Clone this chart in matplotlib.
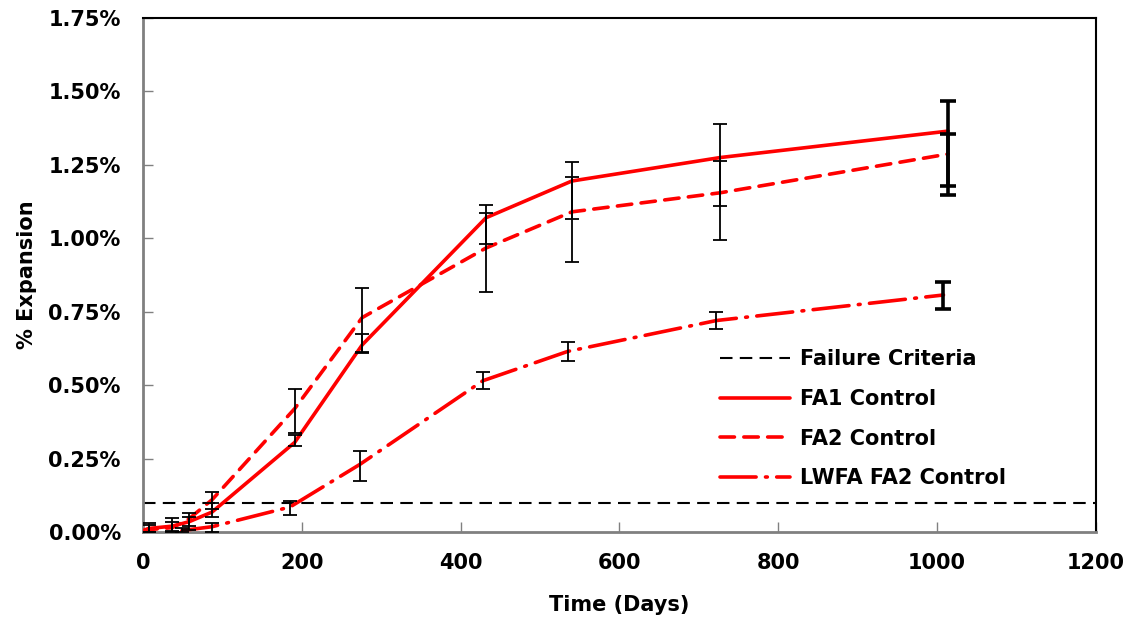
import numpy as np
import matplotlib
matplotlib.use("Agg")
import matplotlib.pyplot as plt
from matplotlib.ticker import FuncFormatter

plt.rcParams['font.family'] = ['DejaVu Sans']
plt.rcParams['font.weight'] = 'bold'

# ---- data ----
failure_criteria = 0.10

fa1_days = [0, 7, 37, 58, 87, 191, 276, 432, 540, 727, 1014]
fa1_vals = [0.005, 0.012, 0.02, 0.035, 0.068, 0.305, 0.637, 1.07, 1.195, 1.275, 1.365]
fa1_lo = [np.nan, 0.0, 0.005, 0.02, 0.05, 0.293, 0.609, 0.98, 1.066, 1.11, 1.178]
fa1_hi = [np.nan, 0.025, 0.035, 0.05, 0.10, 0.330, 0.674, 1.113, 1.26, 1.389, 1.468]

fa2_days = [0, 7, 37, 58, 87, 191, 276, 432, 540, 727, 1014]
fa2_vals = [0.003, 0.008, 0.015, 0.045, 0.11, 0.42, 0.73, 0.967, 1.09, 1.155, 1.287]
fa2_lo = [np.nan, 0.0, 0.0, 0.007, 0.08, 0.337, 0.613, 0.817, 0.919, 0.994, 1.148]
fa2_hi = [np.nan, 0.03, 0.048, 0.065, 0.136, 0.487, 0.831, 1.086, 1.209, 1.263, 1.355]

lw_days = [49, 87, 185, 273, 428, 535, 722, 1008]
lw_vals = [0.005, 0.018, 0.085, 0.23, 0.515, 0.615, 0.72, 0.807]
lw_lo = [0.0, 0.0, 0.058, 0.175, 0.487, 0.582, 0.69, 0.759]
lw_hi = [0.012, 0.03, 0.105, 0.275, 0.545, 0.647, 0.748, 0.851]

x_ticks = [0, 200, 400, 600, 800, 1000, 1200]
y_ticks = [0.0, 0.25, 0.5, 0.75, 1.0, 1.25, 1.5, 1.75]

FS = 15

# ---- figure ----
fig = plt.figure(figsize=(11.33, 6.21), dpi=100)
ax = fig.add_axes([0.1262, 0.1433, 0.8411, 0.8277])

red = '#FF0000'
ax.axhline(failure_criteria, color='black', lw=1.5, dashes=(6, 3.5),
           label='Failure Criteria', zorder=2)
ax.plot(fa1_days, fa1_vals, color=red, lw=2.6, solid_capstyle='round',
        label='FA1 Control', zorder=3)
ax.plot(fa2_days, fa2_vals, color=red, lw=2.6, dashes=(4, 2.6),
        dash_capstyle='round', label='FA2 Control', zorder=3)
ax.plot(lw_days, lw_vals, color=red, lw=2.6, dashes=(10, 2.6, 0.5, 2.6),
        dash_capstyle='round', label='LWFA FA2 Control', zorder=3)

def draw_bars(days, lo, hi):
    d = np.array(days, float)
    lo = np.array(lo, float)
    hi = np.array(hi, float)
    c = (lo + hi) / 2
    e = (hi - lo) / 2
    ax.errorbar(d[:-1], c[:-1], yerr=e[:-1], fmt='none', ecolor='black',
                elinewidth=1.3, capsize=5, capthick=1.3, zorder=4)
    ax.errorbar(d[-1:], c[-1:], yerr=e[-1:], fmt='none', ecolor='black',
                elinewidth=2.6, capsize=6, capthick=2.6, zorder=4)

draw_bars(fa1_days, fa1_lo, fa1_hi)
draw_bars(fa2_days, fa2_lo, fa2_hi)
draw_bars(lw_days, lw_lo, lw_hi)

ax.set_xlim(0, 1200)
ax.set_ylim(0, 1.75)
ax.set_xticks(x_ticks)
ax.set_yticks(y_ticks)
ax.yaxis.set_major_formatter(FuncFormatter(lambda v, p: f"{v:.2f}%"))
ax.tick_params(axis='both', direction='in', length=7, width=1, colors='#808080',
               labelcolor='black', labelsize=FS)
ax.tick_params(axis='y', pad=16)
ax.tick_params(axis='x', pad=15)
for lab in ax.get_xticklabels() + ax.get_yticklabels():
    lab.set_fontweight('bold')

for s in ['left', 'bottom']:
    ax.spines[s].set_color('#808080')
    ax.spines[s].set_linewidth(2)
for s in ['top', 'right']:
    ax.spines[s].set_color('black')
    ax.spines[s].set_linewidth(1.5)

ax.set_xlabel('Time (Days)', fontsize=FS, fontweight='bold', labelpad=16)
ax.set_ylabel('% Expansion', fontsize=FS, fontweight='bold', labelpad=8)

leg = ax.legend(loc='upper left', bbox_to_anchor=(0.605, 0.356), frameon=False,
                fontsize=FS, handlelength=3.4, handletextpad=0.45,
                labelspacing=0.95, borderaxespad=0, borderpad=0)
for t in leg.get_texts():
    t.set_fontweight('bold')

fig.savefig('out.png', dpi=100)
